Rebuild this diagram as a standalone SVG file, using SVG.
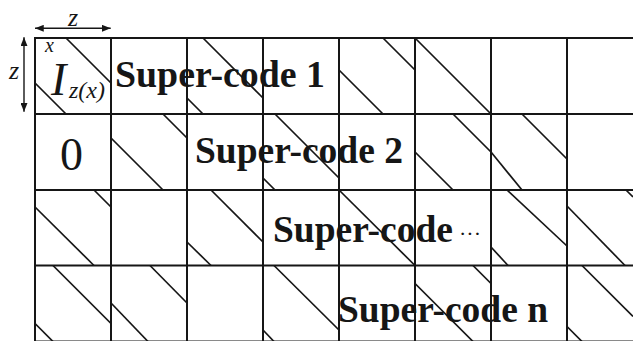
<svg xmlns="http://www.w3.org/2000/svg" width="633" height="341" viewBox="0 0 633 341">
<style>
.grid line{stroke:#161616;stroke-width:2;}
.diag line{stroke:#161616;stroke-width:1.7;stroke-linecap:butt;}
.conn line{stroke:#161616;stroke-width:1.4;}
.it{font-family:"Liberation Serif",serif;font-style:italic;fill:#161616;}
.rg{font-family:"Liberation Serif",serif;fill:#161616;}
.sc{font-family:"Liberation Serif",serif;font-weight:bold;font-size:38px;fill:#161616;}
</style>
<defs>
<marker id="ah" viewBox="0 0 10 8" markerWidth="9" markerHeight="7" refX="10" refY="4" orient="auto-start-reverse" markerUnits="userSpaceOnUse">
<path d="M0,0 L10,4 L0,8 z" fill="#161616"/>
</marker>
</defs>
<rect width="633" height="341" fill="#ffffff"/>
<g id="grid" class="grid">
<line x1="35" y1="38" x2="633" y2="38"/>
<line x1="35" y1="114" x2="633" y2="114"/>
<line x1="35" y1="190" x2="633" y2="190"/>
<line x1="35" y1="265.5" x2="633" y2="265.5"/>
<line x1="35" y1="341.5" x2="633" y2="341.5"/>
<line x1="35" y1="37" x2="35" y2="342"/>
<line x1="111" y1="37" x2="111" y2="342"/>
<line x1="187" y1="37" x2="187" y2="342"/>
<line x1="263" y1="37" x2="263" y2="342"/>
<line x1="339" y1="37" x2="339" y2="342"/>
<line x1="415" y1="37" x2="415" y2="342"/>
<line x1="491" y1="37" x2="491" y2="342"/>
<line x1="567" y1="37" x2="567" y2="342"/>
</g>
<g id="shifts" class="diag">
<line x1="66" y1="38" x2="111" y2="83"/><line x1="35" y1="83" x2="66" y2="114"/>
<line x1="203" y1="38" x2="263" y2="98"/><line x1="187" y1="98" x2="203" y2="114"/>
<line x1="383" y1="38" x2="415" y2="70"/><line x1="339" y1="70" x2="383" y2="114"/>
<line x1="415" y1="38" x2="491" y2="114"/>
<line x1="163" y1="114" x2="187" y2="138"/><line x1="111" y1="138" x2="163" y2="190"/>
<line x1="275" y1="114" x2="339" y2="178"/><line x1="263" y1="178" x2="275" y2="190"/>
<line x1="453" y1="114" x2="491" y2="152"/><line x1="415" y1="152" x2="453" y2="190"/>
<line x1="522" y1="114" x2="567" y2="159"/><line x1="491" y1="152" x2="522" y2="190"/>
<line x1="94" y1="190" x2="111" y2="207"/><line x1="35" y1="207" x2="94" y2="265.5"/>
<line x1="211" y1="190" x2="263" y2="242"/><line x1="187" y1="242" x2="211" y2="265.5"/>
<line x1="339" y1="190" x2="415" y2="265.5"/>
<line x1="507" y1="190" x2="567" y2="246"/><line x1="491" y1="247" x2="508" y2="265.5"/>
<line x1="626" y1="190" x2="633" y2="197"/><line x1="567" y1="206" x2="625" y2="265.5"/>
<line x1="53" y1="265.5" x2="111" y2="323.5"/><line x1="35" y1="323.5" x2="53" y2="341.5"/>
<line x1="150" y1="265.5" x2="187" y2="303"/><line x1="111" y1="303" x2="148" y2="341.5"/>
<line x1="274" y1="265.5" x2="339" y2="330"/><line x1="263" y1="330" x2="274" y2="341.5"/>
<line x1="473" y1="265.5" x2="491" y2="283.5"/><line x1="415" y1="283.5" x2="473" y2="341.5"/>
<line x1="582" y1="265.5" x2="633" y2="316.5"/><line x1="567" y1="326.5" x2="582" y2="341.5"/>
</g>
<g id="connectors" class="conn">
<line x1="35" y1="28.3" x2="110.7" y2="28.3" marker-start="url(#ah)" marker-end="url(#ah)"/>
<line x1="24" y1="37.3" x2="24" y2="111.7" marker-start="url(#ah)" marker-end="url(#ah)"/>
</g>
<g id="dim-labels">
<text class="it" x="73" y="26" font-size="26" text-anchor="middle">z</text>
<text class="it" x="14" y="79" font-size="26" text-anchor="middle">z</text>
</g>
<g id="cell-identity">
<text class="it" x="45" y="52" font-size="20">x</text>
<text class="it" x="51" y="95" font-size="46">I</text>
<text class="it" x="69" y="98" font-size="24">z(x)</text>
</g>
<g id="cell-zero">
<text class="rg" x="71.5" y="169.5" font-size="46" text-anchor="middle">0</text>
</g>
<g id="super-code-1"><text class="sc" x="115" y="87" textLength="210" lengthAdjust="spacingAndGlyphs">Super-code 1</text></g>
<g id="super-code-2"><text class="sc" x="195" y="163" textLength="208" lengthAdjust="spacingAndGlyphs">Super-code 2</text></g>
<g id="super-code-dots"><text class="sc" x="273" y="241.5" textLength="180" lengthAdjust="spacingAndGlyphs">Super-code</text><text class="rg" x="459" y="240.5" font-size="22">···</text></g>
<g id="super-code-n"><text class="sc" x="338" y="321.5" textLength="210" lengthAdjust="spacingAndGlyphs">Super-code n</text></g>
</svg>
